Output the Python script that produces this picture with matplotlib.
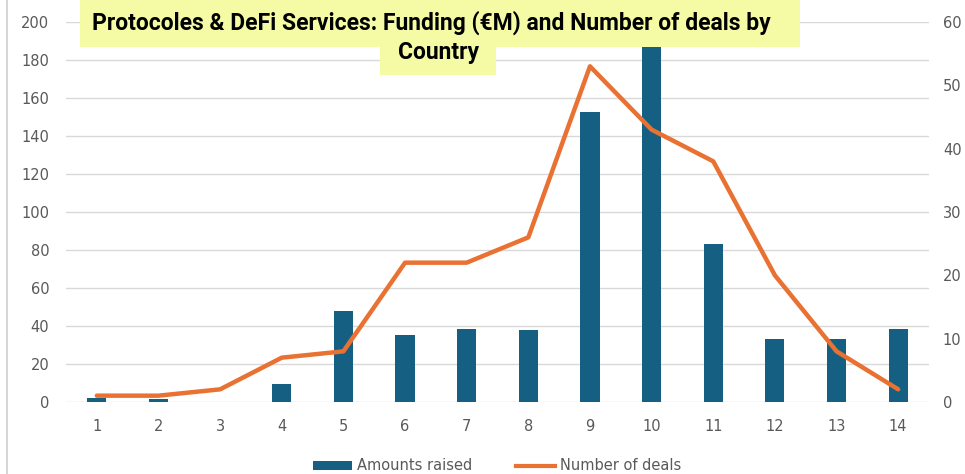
import matplotlib.pyplot as plt
from matplotlib.lines import Line2D
from matplotlib.patches import Patch, Rectangle

# Funding per country (EUR millions) and number of deals
countries = list(range(1, 15))
amounts_raised = [2, 1.5, 0, 9.5, 48, 35, 38.5, 38, 152.5, 195, 83, 33, 33, 38.5]
number_of_deals = [1, 1, 2, 7, 8, 22, 22, 26, 53, 43, 38, 20, 8, 2]

left_ticks = list(range(0, 201, 20))
right_ticks = list(range(0, 61, 10))

BLUE = "#156082"
ORANGE = "#E97132"
GREY = "#595959"
HIGHLIGHT = "#F4FBA4"

fig = plt.figure(figsize=(9.65, 4.74), dpi=100)
ax = fig.add_axes([0.0684, 0.1519, 0.8943, 0.8017])

ax.bar(countries, amounts_raised, width=0.31, color=BLUE, zorder=2)
ax.set_xlim(0.5, 14.5)
ax.set_ylim(0, 200)
ax.set_yticks(left_ticks)
ax.set_xticks(countries)
ax.grid(axis="y", color="#D9D9D9", linewidth=1.0, zorder=0)
ax.set_axisbelow(True)
for s in ax.spines.values():
    s.set_visible(False)
ax.tick_params(axis="both", length=0, colors=GREY, labelsize=10.5)
ax.tick_params(axis="y", pad=12)
ax.tick_params(axis="x", pad=12)

ax2 = ax.twinx()
ax2.plot(countries, number_of_deals, color=ORANGE, linewidth=3.2,
         solid_joinstyle="round", solid_capstyle="round", zorder=3)
ax2.set_ylim(0, 60)
ax2.set_yticks(right_ticks)
for s in ax2.spines.values():
    s.set_visible(False)
ax2.tick_params(axis="y", length=0, colors=GREY, labelsize=10.5, pad=10)

# Legend under the plot
handles = [Patch(facecolor=BLUE, edgecolor="none"),
           Line2D([0], [0], color=ORANGE, linewidth=3)]
fig.legend(handles, ["Amounts raised", "Number of deals"],
           loc="center", bbox_to_anchor=(0.515, 0.017), ncol=2, frameon=False,
           fontsize=10.5, labelcolor=GREY, handlelength=2.7, handleheight=0.6,
           handletextpad=0.3, columnspacing=3.0)

# Highlighted two-line title
fig.add_artist(Rectangle((0.0829, 0.9008), 0.746, 0.0992, transform=fig.transFigure,
                         facecolor=HIGHLIGHT, edgecolor="none", zorder=5))
fig.add_artist(Rectangle((0.3938, 0.8418), 0.1202, 0.0592, transform=fig.transFigure,
                         facecolor=HIGHLIGHT, edgecolor="none", zorder=5))
fig.text(0.4466, 0.952, "Protocoles & DeFi Services: Funding (\u20acM) and Number of deals by",
         ha="center", va="center", fontsize=16.5, fontweight="bold",
         family="Roboto", color="black", zorder=6)
fig.text(0.4539, 0.889, "Country", ha="center", va="center", fontsize=16.5,
         fontweight="bold", family="Roboto", color="black", zorder=6)

# Thin frame line on the left edge
fig.add_artist(Line2D([0.0073, 0.0073], [0, 1], color="#D0D0D0", linewidth=1.2))

fig.savefig("out.png", dpi=100, facecolor="white")
